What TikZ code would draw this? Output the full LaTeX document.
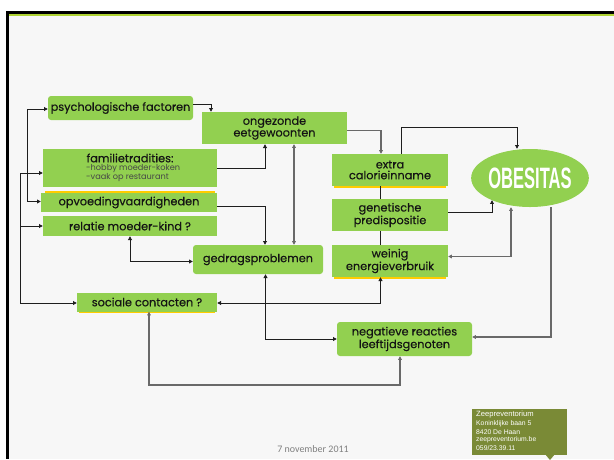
\documentclass[tikz,border=0pt]{standalone}
\usepackage{fontspec}
\setmainfont{Poppins}
\newfontfamily\boxfont{Poppins}[FakeBold=0.35]
\newfontfamily\liber{Liberation Sans}
\newfontfamily\carl{Carlito}
\usetikzlibrary{arrows.meta,shapes.geometric}
\definecolor{boxgreen}{RGB}{146,208,80}
\definecolor{topgreen}{RGB}{176,212,52}
\definecolor{yel}{RGB}{255,204,0}
\definecolor{bg}{RGB}{247,247,247}
\definecolor{olive}{RGB}{122,138,54}
\definecolor{ldark}{RGB}{30,30,30}
\definecolor{lgray}{RGB}{105,105,105}
\begin{document}
\begin{tikzpicture}[x=1pt,y=-1pt,
  box/.style={fill=boxgreen, inner sep=0pt, align=center, text=black!92,
    font=\boxfont\fontsize{11.3}{10.8}\selectfont},
  rbox/.style={box, rounded corners=3pt},
  arr/.style={draw=ldark, line width=0.9pt, -{Triangle[length=3.8pt,width=3.8pt]}},
  arrb/.style={draw=ldark, line width=0.9pt, {Triangle[length=3.8pt,width=3.8pt]}-{Triangle[length=3.8pt,width=3.8pt]}},
  garr/.style={draw=lgray, line width=1.3pt, -{Triangle[length=3.6pt,width=3.6pt,fill=ldark]}},
  garrb/.style={draw=lgray, line width=1.3pt, {Triangle[length=3.6pt,width=3.6pt,fill=ldark]}-{Triangle[length=3.6pt,width=3.6pt,fill=ldark]}},
  plain/.style={draw=ldark, line width=0.9pt},
  shadowline/.style={fill=yel}]
\useasboundingbox (0,0) rectangle (614,459);
\fill[white] (0,0) rectangle (614,459);
\fill[bg] (8,15) rectangle (614,459);
\fill[black] (6,10.5) rectangle (614,14);
\fill[topgreen] (8,14) rectangle (614,16);
\fill[black] (6,10.5) rectangle (8.5,459);

% nodes
\node[rbox, minimum width=145pt, minimum height=24pt] (psych) at (120.5,108) {psychologische factoren};
\node[box, minimum width=145pt, minimum height=32pt] (ong) at (274.5,128) {ongezonde\\eetgewoonten};
\node[box, minimum width=174pt, minimum height=38pt] (fam) at (130,168) {};
\node[text=black!92, font=\boxfont\fontsize{11.3}{11}\selectfont, inner sep=0pt] (famh) at (130,158) {familietradities:};
\node[text=black!72, font=\fontsize{8.2}{8.2}\selectfont, inner sep=0pt, anchor=west] (fam1) at (86,169) {-hobby moeder-koken};
\node[text=black!72, font=\fontsize{8.2}{8.2}\selectfont, inner sep=0pt, anchor=west] (fam2) at (86,177.8) {-vaak op restaurant};
\fill[shadowline] (45,190.8) rectangle (215,192.6);
\node[box, minimum width=176pt, minimum height=19pt] (opv) at (129,202.5) {opvoedingvaardigheden};
\node[box, minimum width=174pt, minimum height=20pt] (rel) at (130,226) {relatie moeder-kind ?};
\node[rbox, minimum width=130pt, minimum height=29pt] (ged) at (258,259.5) {gedragsproblemen};
\fill[shadowline] (79,311) rectangle (215,313);
\node[box, minimum width=140pt, minimum height=19pt] (soc) at (147,302) {sociale contacten ?};
\fill[shadowline] (334,185) rectangle (446,187.5);
\node[box, minimum width=116pt, minimum height=32pt] (extra) at (390,170) {extra\\calorieinname};
\node[box, minimum width=116pt, minimum height=32pt] (gen) at (390,215) {genetische\\predispositie};
\fill[shadowline] (334,276) rectangle (446,278.5);
\node[box, minimum width=116pt, minimum height=32pt] (wein) at (390,261) {weinig\\energieverbruik};
\node[ellipse, fill=boxgreen, inner sep=0pt, minimum width=96pt, minimum height=58pt, text=white,
  font=\liber\bfseries\fontsize{29.5}{29.5}\selectfont] (obes) at (530,178) {\scalebox{0.56}[1]{OBESITAS}};
\node[rbox, minimum width=135pt, minimum height=34pt] (neg) at (404.5,339) {negatieve reacties\\leeftijdsgenoten};

% coordinates
\coordinate (k1) at (211,104);
\coordinate (k2) at (265,168);
\coordinate (k3) at (294,0);
\coordinate (k4) at (265,206.5);
\coordinate (k5) at (381,130.5);
\coordinate (k6a) at (401,127);
\coordinate (k6b) at (517,127);
\coordinate (k7) at (380,0);
\coordinate (k8) at (492,212);
\coordinate (k9) at (511,256.5);
\coordinate (k10) at (551,337);
\coordinate (k11) at (265.5,339);
\coordinate (k12) at (380.5,303);
\coordinate (k13a) at (149,385);
\coordinate (k13b) at (400,385);
\coordinate (k14) at (130,261.5);
\coordinate (b1) at (27,109);
\coordinate (b2) at (27,201.5);
\coordinate (b3) at (20.5,173);
\coordinate (b4) at (20.5,226);
\coordinate (b5) at (20.5,303);

% connectors
\draw[arr] (psych.east |- k1) -- (k1) -- (k1 |- ong.north);
\draw[arr] (fam.east |- k2) -- (k2) -- (k2 |- ong.south);
\draw[garrb] (k3 |- ong.south) -- (k3 |- ged.north);
\draw[arr] (opv.east |- k4) -- (k4) -- (k4 |- ged.north);
\draw[garr] (ong.east |- k5) -- (k5) -- (k5 |- extra.north);
\draw[arr] (k6a |- extra.north) -- (k6a) -- (k6b) -- (k6b |- obes.north);
\draw[plain] (k7 |- extra.south) -- (k7 |- gen.north);
\draw[plain] (k7 |- gen.south) -- (k7 |- wein.north);
\draw[arr] (gen.east |- k8) -- (k8) -- (k8 |- obes.210);
\draw[garrb] (k9 |- obes.south) -- (k9) -- (wein.east |- k9);
\draw[garr] (k10 |- obes.south) -- (k10) -- (neg.east |- k10);
\draw[arrb] (k11 |- ged.south) -- (k11) -- (neg.west |- k11);
\draw[arrb] (k12 |- wein.south) -- (k12) -- (soc.east |- k12);
\draw[garrb] (k13a |- soc.south) -- (k13a) -- (k13b) -- (k13b |- neg.south);
\draw[arrb] (k14 |- rel.south) -- (k14) -- (ged.west |- k14);
\draw[arrb] (psych.west |- b1) -- (b1) -- (b2) -- (opv.west |- b2);
\draw[arrb] (fam.west |- b3) -- (b3) -- (b5) -- (soc.west |- b5);
\draw[arr] (b4) -- (rel.west |- b4);

% footer
\node[font=\carl\fontsize{10}{10}\selectfont, text=black!50, inner sep=0pt] (date) at (313,449) {7 november 2011};
\fill[olive] (472,409) rectangle (567,455);
\fill[olive] (545,454) -- (555,454) -- (550,460) -- cycle;
\node[anchor=west, font=\liber\fontsize{7.6}{7.6}\selectfont, text=white, inner sep=0pt] (z1) at (476,414.5) {Zeepreventorium};
\node[anchor=west, font=\liber\fontsize{6.8}{6.8}\selectfont, text=white, inner sep=0pt] (z2) at (476,423.3) {Koninklijke baan 5};
\node[anchor=west, font=\liber\fontsize{6.8}{6.8}\selectfont, text=white, inner sep=0pt] (z3) at (476,431.8) {8420 De Haan};
\node[anchor=west, font=\liber\fontsize{6.8}{6.8}\selectfont, text=white, inner sep=0pt] (z4) at (476,440) {zeepreventorium.be};
\node[anchor=west, font=\liber\fontsize{6.8}{6.8}\selectfont, text=white, inner sep=0pt] (z5) at (476,448.3) {059/23.39.11};
\end{tikzpicture}
\end{document}
